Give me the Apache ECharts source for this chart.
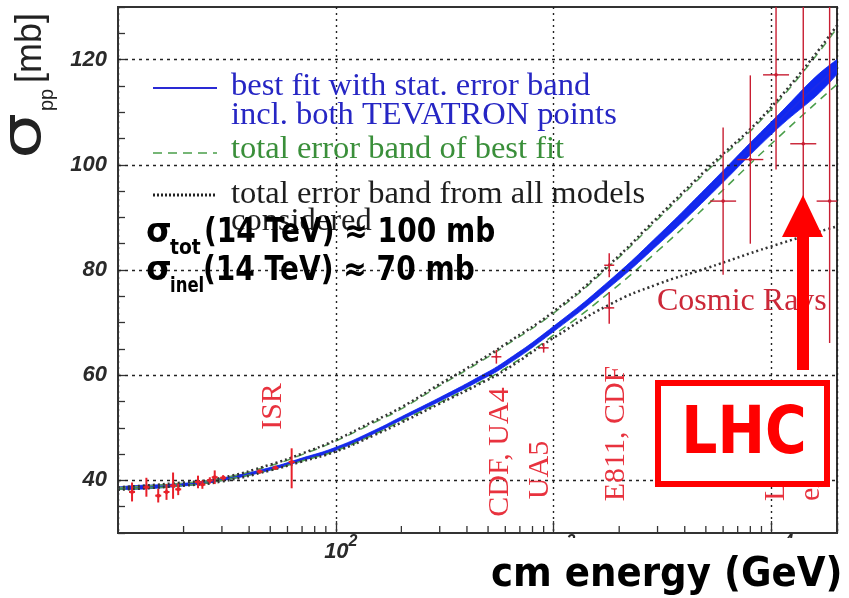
<!DOCTYPE html>
<html>
<head>
<meta charset="utf-8">
<script src="https://cdn.jsdelivr.net/npm/echarts/dist/echarts.min.js"></script>
<style>html,body{margin:0;padding:0;background:#fff;}#c{width:849px;height:598px;}</style>
</head>
<body>
<div id="c"></div>
<script>
// ---------------- data ----------------
const energy    = [10, 20, 30, 50, 70, 100, 150, 200, 300, 450, 600, 1000, 1800, 3000, 5000, 10000, 20000];
const bestFit   = [38.5, 39.2, 40.2, 42.2, 44.0, 46.0, 49.2, 51.8, 55.4, 59.2, 62.2, 68.8, 77.3, 85.6, 94.5, 107.0, 118.6];
const statLow   = [38.25, 38.95, 39.95, 41.95, 43.75, 45.7, 48.9, 51.5, 55.05, 58.8, 61.75, 68.3, 76.65, 84.75, 93.45, 105.8, 117.2];
const statHigh  = [38.75, 39.45, 40.45, 42.45, 44.25, 46.3, 49.5, 52.1, 55.75, 59.6, 62.65, 69.3, 77.95, 86.45, 95.55, 108.2, 120.0];
const totLow    = [38.3, 39.0, 40.0, 41.95, 43.7, 45.65, 48.75, 51.3, 54.8, 58.45, 61.3, 67.6, 75.7, 83.6, 92.1, 104.0, 115.3];
const totHigh   = [38.6, 39.5, 40.4, 42.8, 44.9, 47.5, 51.0, 53.6, 58.0, 62.3, 65.6, 71.8, 80.7, 89.6, 98.6, 110.6, 126.0];
const modelLow  = [38.2, 39.0, 39.8, 41.9, 43.6, 45.5, 48.6, 51.0, 54.6, 58.2, 61.0, 67.1, 73.4, 77.3, 80.3, 84.5, 88.3];
const modelHigh = [38.7, 39.6, 40.5, 43.0, 45.1, 47.7, 51.3, 53.9, 58.3, 62.6, 65.9, 72.1, 81.0, 90.0, 99.0, 111.0, 126.5];

const lowE   = [11.6, 13.5, 15.3, 16.7, 17.9, 18.9, 23.3, 24.4, 26.4, 27.8, 30.4, 44.7, 52.8, 62.7];
const lowVal = [37.8, 38.7, 37.1, 37.8, 39.0, 38.3, 39.7, 39.2, 40.0, 40.6, 40.5, 41.7, 42.4, 43.5];
const lowLo  = [1.8, 1.8, 1.3, 1.5, 2.5, 1.1, 1.2, 0.8, 0.6, 1.3, 0.5, 0.4, 0.4, 5.0];
const lowHi  = [1.8, 1.8, 1.3, 1.5, 2.5, 1.1, 1.2, 0.8, 0.6, 1.3, 0.5, 0.4, 0.4, 2.6];

const colliderE   = [546, 900, 1800, 1800];
const colliderVal = [63.5, 65.2, 80.9, 72.8];
const colliderErr = [1.3, 0.9, 2.3, 3.0];

const cosmicE   = [6000, 8000, 10500, 14000, 18500];
const cosmicVal = [93.1, 101.0, 117.1, 104.0, 93.1];
const cosmicLo  = [14, 16, 18, 30, 27];
const cosmicHi  = [14, 16, 18, 30, 40];

const yGridTicks  = [40, 60, 80, 100, 120];
const xMinorTicks = [20, 30, 40, 50, 60, 70, 80, 90, 200, 300, 400, 500, 600, 700, 800, 900,
                     2000, 3000, 4000, 5000, 6000, 7000, 8000, 9000];
const Y_MIN = 30, Y_MAX = 130, X_MIN = 10, X_MAX = 20000;

// ---------------- helpers ----------------
const SMOOTH = 0.5;
const pairs = vals => energy.map((e, i) => [e, vals[i]]);

function errSeries(E, V, LO, HI, opt) {
  return {
    type: 'custom', z: 6, silent: true,
    data: E.map((e, i) => [e, V[i], LO[i], HI[i]]),
    encode: { x: 0, y: 1 },
    renderItem: function (params, api) {
      const cs = params.coordSys;
      const top = cs.y, bot = cs.y + cs.height, right = cs.x + cs.width;
      const e = api.value(0), v = api.value(1), lo = api.value(2), hi = api.value(3);
      const c = api.coord([e, v]);
      const y1 = Math.max(top, api.coord([e, v + hi])[1]);
      const y2 = Math.min(bot, api.coord([e, v - lo])[1]);
      const st = { stroke: opt.color, lineWidth: opt.lw };
      const ch = [
        { type: 'line', shape: { x1: c[0], y1: y1, x2: c[0], y2: y2 }, style: st },
        { type: 'line', shape: { x1: c[0] - opt.cap, y1: c[1], x2: Math.min(right, c[0] + opt.cap), y2: c[1] }, style: st }
      ];
      if (opt.dot) ch.push({ type: 'circle', shape: { cx: c[0], cy: c[1], r: opt.dot }, style: { fill: opt.color } });
      return { type: 'group', children: ch };
    }
  };
}

function txt(x, y, text, font, fill, extra) {
  return Object.assign({
    type: 'text', x: x, y: y, z: 10, silent: true,
    style: { text: text, font: font, fill: fill, align: 'left', verticalAlign: 'middle', textAlign: 'left', textVerticalAlign: 'middle' }
  }, extra || {});
}
function rtxt(x, y, text, font, fill, align) {
  return {
    type: 'text', x: x, y: y, z: 10, silent: true, rotation: Math.PI / 2,
    style: { text: text, font: font, fill: fill, align: align || 'center', verticalAlign: 'middle', textAlign: align || 'center', textVerticalAlign: 'middle' }
  };
}

const SERIF = '"Liberation Serif", "Times New Roman", serif';
const BOLD = 'bold 33px "DejaVu Sans", Verdana, sans-serif';
const SUB = 'bold 22px "DejaVu Sans", Verdana, sans-serif';
const RED = '#e8323e';

const graphics = [
  // legend samples
  { type: 'line', z: 10, silent: true, shape: { x1: 153, y1: 88, x2: 217, y2: 88 }, style: { stroke: '#2a2ad4', lineWidth: 2 } },
  { type: 'line', z: 10, silent: true, shape: { x1: 153, y1: 153, x2: 217, y2: 153 }, style: { stroke: '#4a9e4a', lineWidth: 1.5, lineDash: [9, 6] } },
  { type: 'line', z: 10, silent: true, shape: { x1: 153, y1: 195, x2: 217, y2: 195 }, style: { stroke: '#222', lineWidth: 3, lineDash: [2, 2] } },
  // legend texts
  txt(231, 86, 'best fit with stat. error band', '32.5px ' + SERIF, '#2626c4'),
  txt(231, 115, 'incl. both TEVATRON points', '32.5px ' + SERIF, '#2626c4'),
  txt(231, 149, 'total error band of best fit', '32.5px ' + SERIF, '#3a8f3a'),
  txt(231, 194, 'total error band from all models', '32.5px ' + SERIF, '#1e1e1e'),
  txt(231, 221, 'considered', '32.5px ' + SERIF, '#1e1e1e'),
  // bold annotations
  txt(146, 233, 'σ', BOLD, '#000', { z: 12 }),
  txt(170, 248, 'tot', SUB, '#000', { z: 12, scaleX: 0.85 }),
  txt(204, 233, '(14 TeV) ≈ 100 mb', BOLD, '#000', { z: 12, scaleX: 0.85 }),
  txt(146, 271.5, 'σ', BOLD, '#000', { z: 12 }),
  txt(170, 286.5, 'inel', SUB, '#000', { z: 12, scaleX: 0.75 }),
  txt(203, 271.5, '(14 TeV) ≈ 70 mb', BOLD, '#000', { z: 12, scaleX: 0.85 }),
  // red experiment labels
  rtxt(273, 406.5, 'ISR', '30px ' + SERIF, RED),
  rtxt(500.5, 452, 'CDF, UA4', '30px ' + SERIF, RED),
  rtxt(540.5, 470, 'UA5', '30px ' + SERIF, RED),
  rtxt(616.5, 433.5, 'E811, CDF', '30px ' + SERIF, RED),
  txt(657, 302, 'Cosmic Rays', '32px ' + SERIF, '#cc2838'),
  rtxt(776, 501, 'LHC', '30px ' + SERIF, RED, 'left'),
  rtxt(811, 501, 'expected', '30px ' + SERIF, RED, 'left'),
  // LHC box + arrow
  { type: 'rect', z: 20, silent: true, shape: { x: 658, y: 383, width: 169, height: 101 }, style: { fill: '#fff', stroke: '#ff0000', lineWidth: 6 } },
  { type: 'text', z: 21, silent: true, x: 744, y: 436, scaleX: 0.86,
    style: { text: 'LHC', font: 'bold 66px "DejaVu Sans", Verdana, sans-serif', fill: '#ff0000', align: 'center', verticalAlign: 'middle', textAlign: 'center', textVerticalAlign: 'middle' } },
  { type: 'polygon', z: 22, silent: true,
    shape: { points: [[797, 370], [809, 370], [809, 237], [823, 237], [803, 195], [782, 237], [797, 237]] },
    style: { fill: '#ff0000' } },
  // y-axis title (rotated)
  { type: 'text', z: 10, silent: true, x: 25, y: 159, rotation: Math.PI / 2, scaleX: 1.3,
    style: { text: 'σ', font: '56px "DejaVu Sans", sans-serif', fill: '#222', align: 'left', verticalAlign: 'middle', textAlign: 'left', textVerticalAlign: 'middle' } },
  { type: 'text', z: 10, silent: true, x: 47, y: 111, rotation: Math.PI / 2,
    style: { text: 'pp', font: '20px "Liberation Sans", Arial, sans-serif', fill: '#222', align: 'left', verticalAlign: 'middle', textAlign: 'left', textVerticalAlign: 'middle' } },
  { type: 'text', z: 10, silent: true, x: 31, y: 83, rotation: Math.PI / 2,
    style: { text: '[mb]', font: '36px "Liberation Sans", Arial, sans-serif', fill: '#222', align: 'left', verticalAlign: 'middle', textAlign: 'left', textVerticalAlign: 'middle' } },
  // white cover under the x axis + title
  { type: 'rect', z: 30, silent: true, shape: { x: 420, y: 538, width: 429, height: 60 }, style: { fill: '#fff' } },
  txt(491, 576, 'cm energy (GeV)', 'bold 40px "DejaVu Sans", Verdana, sans-serif', '#000', { z: 31, scaleX: 0.93 })
];

const lineBase = { type: 'line', symbol: 'none', smooth: SMOOTH, silent: true };

const option = {
  animation: false,
  backgroundColor: '#fff',
  grid: { left: 118, right: 12, top: 7, bottom: 65, show: true, borderColor: '#333', borderWidth: 2,
          containLabel: false, outerBoundsMode: 'none' },
  xAxis: {
    type: 'log', logBase: 10, min: X_MIN, max: X_MAX,
    axisLine: { show: true, lineStyle: { color: '#333', width: 2 } },
    axisTick: { show: true, inside: true, length: 12, lineStyle: { color: '#333', width: 1.3 } },
    splitLine: { show: true, lineStyle: { color: '#222', width: 1.4, type: [2, 4] } },
    axisLabel: {
      margin: 1, showMinLabel: false,
      formatter: function (v) {
        const l = Math.log10(v), p = Math.round(l);
        if (Math.abs(l - p) > 1e-6 || p < 2) return '';
        return '{p| }{b|10}{s|' + p + '}';
      },
      rich: {
        p: { width: 10, fontSize: 16 },
        b: { fontSize: 22, fontStyle: 'italic', fontWeight: 'bold', fontFamily: 'Liberation Sans', color: '#2a2a2a', verticalAlign: 'bottom' },
        s: { fontSize: 16, fontStyle: 'italic', fontWeight: 'bold', fontFamily: 'Liberation Sans', color: '#2a2a2a', verticalAlign: 'bottom', padding: [0, 0, 13, 0] }
      }
    }
  },
  yAxis: {
    type: 'value', min: Y_MIN, max: Y_MAX, interval: 5,
    axisLine: { show: true, lineStyle: { color: '#333', width: 2 } },
    axisTick: { show: true, inside: true, length: 7, lineStyle: { color: '#333', width: 1.3 } },
    splitLine: { show: false },
    axisLabel: {
      margin: 11, fontSize: 22, fontStyle: 'italic', fontWeight: 'bold', fontFamily: 'Liberation Sans', color: '#2a2a2a',
      formatter: v => (yGridTicks.indexOf(v) >= 0 ? String(v) : '')
    }
  },
  graphic: { elements: graphics },
  series: [
    // horizontal dotted grid lines
    { type: 'line', z: 1, silent: true, symbol: 'none', data: [[X_MIN, Y_MIN]], lineStyle: { opacity: 0 },
      markLine: { silent: true, symbol: ['none', 'none'], label: { show: false },
        lineStyle: { color: '#222', width: 1.4, type: [3, 4] },
        data: yGridTicks.map(v => ({ yAxis: v })) } },
    // stat error band (blue) as a smoothed polygon through the axis scales
    { type: 'custom', z: 3, silent: true, data: [[energy[0], statLow[0]]], encode: { x: 0, y: 1 },
      renderItem: function (params, api) {
        const cs = params.coordSys;
        const pts = [];
        for (let i = 0; i < energy.length; i++) pts.push(api.coord([energy[i], statHigh[i]]));
        for (let i = energy.length - 1; i >= 0; i--) pts.push(api.coord([energy[i], statLow[i]]));
        return { type: 'polygon', shape: { points: pts, smooth: SMOOTH },
                 style: { fill: '#1028f0', stroke: '#1028f0', lineWidth: 0.8 },
                 clipPath: { type: 'rect', shape: { x: cs.x, y: cs.y, width: cs.width, height: cs.height } } };
      } },
    Object.assign({}, lineBase, { z: 4, data: pairs(bestFit), lineStyle: { color: '#1a2ae8', width: 2 } }),
    // total error band of best fit (green dashed)
    Object.assign({}, lineBase, { z: 4, data: pairs(totLow), lineStyle: { color: '#4a9e4a', width: 1.5, type: [8, 6] } }),
    Object.assign({}, lineBase, { z: 4, data: pairs(totHigh), lineStyle: { color: '#5aa05a', width: 1.5, type: [8, 6] } }),
    // total error band from all models (black dotted)
    Object.assign({}, lineBase, { z: 5, data: pairs(modelLow), lineStyle: { color: '#333', width: 2.5, type: [2, 3] } }),
    Object.assign({}, lineBase, { z: 5, data: pairs(modelHigh), lineStyle: { color: '#333', width: 2.5, type: [2, 3] } }),
    // data points
    errSeries(lowE, lowVal, lowLo, lowHi, { color: '#e8202a', lw: 2, cap: 3, dot: 2 }),
    errSeries(colliderE, colliderVal, colliderErr, colliderErr, { color: '#d42034', lw: 1.5, cap: 5, dot: 1.2 }),
    errSeries(cosmicE, cosmicVal, cosmicLo, cosmicHi, { color: '#c81e32', lw: 1.4, cap: 13, dot: 1.8 }),
    // minor x ticks
    { type: 'custom', z: 6, silent: true, data: xMinorTicks.map(e => [e, Y_MIN]), encode: { x: 0, y: 1 },
      renderItem: function (params, api) {
        const cs = params.coordSys;
        const c = api.coord([api.value(0), api.value(1)]);
        const b = cs.y + cs.height;
        return { type: 'line', shape: { x1: c[0], y1: b, x2: c[0], y2: b - 7 }, style: { stroke: '#333', lineWidth: 1.3 } };
      } }
  ]
};

const chart = echarts.init(document.getElementById('c'), null, { renderer: 'canvas' });
chart.setOption(option);
</script>
</body>
</html>
